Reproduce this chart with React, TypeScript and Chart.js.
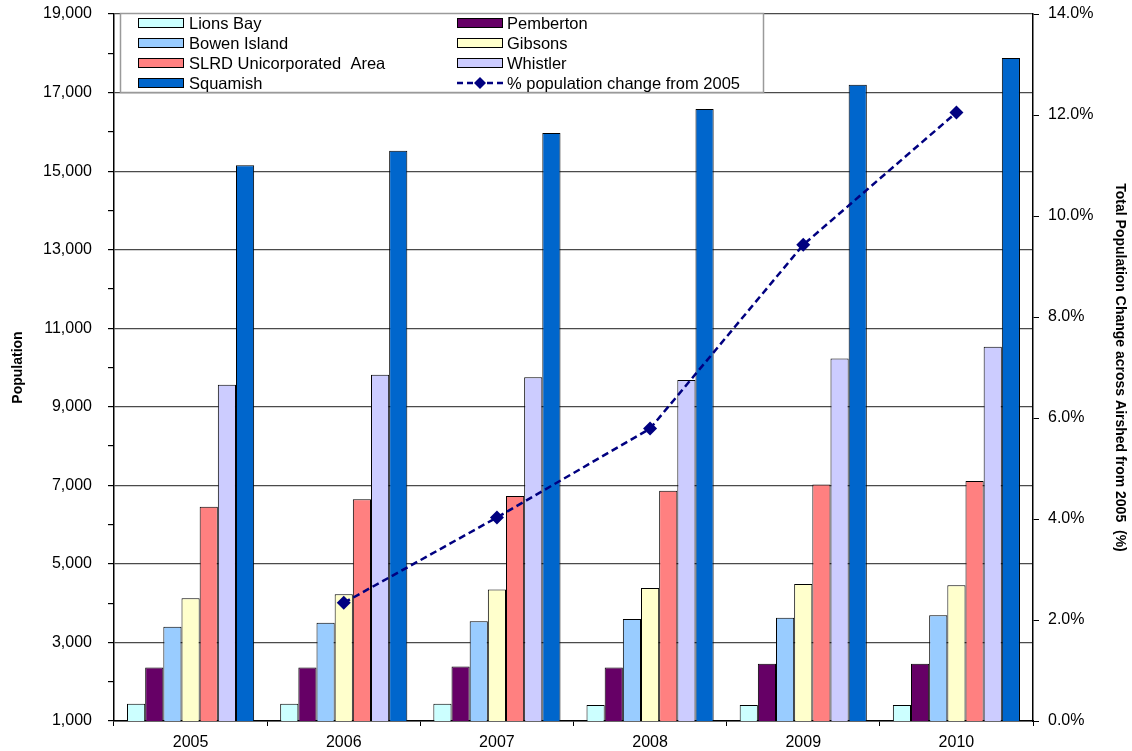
import React, { useEffect, useRef } from 'react';
import { Chart, registerables } from 'chart.js';

Chart.register(...registerables);

const years = ['2005', '2006', '2007', '2008', '2009', '2010'];
const lionsBay = [1440, 1440, 1440, 1410, 1410, 1410];
const pemberton = [2360, 2360, 2390, 2360, 2460, 2460];
const bowenIsland = [3400, 3500, 3540, 3600, 3630, 3690];
const gibsons = [4125, 4225, 4350, 4385, 4490, 4455];
const slrd = [6455, 6645, 6730, 6860, 7020, 7110];
const whistler = [9560, 9815, 9750, 9680, 10230, 10530];
const squamish = [15150, 15520, 15970, 16580, 17200, 17880];
const pctChange = [null, 2.34, 4.03, 5.79, 9.43, 12.05];

const seriesNames = [
  'Lions Bay',
  'Pemberton',
  'Bowen Island',
  'Gibsons',
  'SLRD Unicorporated  Area',
  'Whistler',
  'Squamish',
];
const seriesColors = ['#CCFFFF', '#660066', '#99CCFF', '#FFFFCC', '#FF8080', '#CCCCFF', '#0066CC'];
const seriesValues = [lionsBay, pemberton, bowenIsland, gibsons, slrd, whistler, squamish];
const lineName = '% population change from 2005';
const lineColor = '#000080';

const FONT = "'Liberation Sans', Arial, sans-serif";

const boxLegend = {
  id: 'boxLegend',
  afterDraw(chart: any) {
    const ctx = chart.ctx as CanvasRenderingContext2D;
    ctx.save();
    const x0 = 120, y0 = 13, x1 = 763, y1 = 92;
    ctx.fillStyle = '#ffffff';
    ctx.fillRect(x0, y0, x1 - x0, y1 - y0);
    ctx.strokeStyle = '#9a9a9a';
    ctx.lineWidth = 1.5;
    ctx.strokeRect(x0 + 0.5, y0 + 0.5, x1 - x0, y1 - y0);
    const colSwatch = [138, 457];
    const colText = [189, 507];
    const rowY = [23, 43, 63, 83];
    ctx.font = `16.5px ${FONT}`;
    ctx.textBaseline = 'middle';
    ctx.textAlign = 'left';
    chart.data.datasets.forEach((ds: any, i: number) => {
      const col = i % 2;
      const row = Math.floor(i / 2);
      const sx = colSwatch[col];
      const y = rowY[row];
      if (ds.type === 'line') {
        ctx.strokeStyle = lineColor;
        ctx.lineWidth = 2.5;
        ctx.setLineDash([6, 4]);
        ctx.beginPath();
        ctx.moveTo(sx, y);
        ctx.lineTo(sx + 46, y);
        ctx.stroke();
        ctx.setLineDash([]);
        ctx.fillStyle = lineColor;
        ctx.beginPath();
        ctx.moveTo(sx + 23, y - 6);
        ctx.lineTo(sx + 29, y);
        ctx.lineTo(sx + 23, y + 6);
        ctx.lineTo(sx + 17, y);
        ctx.closePath();
        ctx.fill();
      } else {
        ctx.fillStyle = ds.backgroundColor;
        ctx.fillRect(sx, y - 5, 46, 10);
        ctx.strokeStyle = '#000';
        ctx.lineWidth = 1;
        ctx.strokeRect(sx + 0.5, y - 4.5, 45, 9);
      }
      ctx.fillStyle = '#000';
      ctx.fillText(ds.label, colText[col], y + 1);
    });
    ctx.restore();
  },
};

export default function App() {
  const canvasRef = useRef<HTMLCanvasElement | null>(null);

  useEffect(() => {
    if (!canvasRef.current) return;
    const datasets: any[] = [];
    seriesNames.forEach((name, i) => {
      datasets.push({
        type: 'bar',
        label: name,
        data: seriesValues[i],
        backgroundColor: seriesColors[i],
        borderColor: '#000000',
        borderWidth: 1,
        yAxisID: 'y',
        order: 1,
        categoryPercentage: 0.83,
        barPercentage: 1.0,
      });
    });
    datasets.push({
      type: 'line',
      label: lineName,
      data: pctChange,
      borderColor: lineColor,
      backgroundColor: lineColor,
      borderWidth: 2.5,
      borderDash: [7, 4],
      pointStyle: 'rectRot',
      pointRadius: 7,
      pointBorderWidth: 0,
      pointBackgroundColor: lineColor,
      yAxisID: 'yR',
      order: 0,
      spanGaps: false,
      tension: 0,
    });

    const fixVertical = (w: number) => (s: any) => {
      s.width = w;
      s.paddingTop = 14;
      s.paddingBottom = 0;
    };

    const chart = new Chart(canvasRef.current, {
      type: 'bar',
      data: { labels: years, datasets },
      options: {
        responsive: false,
        animation: false,
        layout: { padding: { top: 0, left: 0, right: 0, bottom: 0 } },
        plugins: {
          legend: { display: false },
          tooltip: { enabled: false },
        },
        scales: {
          x: {
            grid: {
              drawOnChartArea: false,
              offset: true,
              tickLength: 5,
              color: '#000',
              tickColor: '#000',
            },
            border: { color: '#000', width: 1.5 },
            ticks: { color: '#000', font: { family: FONT, size: 16 }, padding: 7 },
            afterFit: (s: any) => { s.height = 30; s.paddingLeft = 0; s.paddingRight = 0; },
          },
          y: {
            position: 'left',
            min: 1000,
            max: 19000,
            border: { color: '#000', width: 1.5 },
            grid: {
              color: (c: any) =>
                c.tick && (c.tick.value - 1000) % 2000 === 0 ? '#4a4a4a' : 'rgba(0,0,0,0)',
              tickColor: '#000',
              tickLength: 6,
              lineWidth: 1.2,
            },
            ticks: {
              stepSize: 1000,
              autoSkip: false,
              color: '#000',
              padding: 16,
              font: { family: FONT, size: 16 },
              callback: (v: any) =>
                (v - 1000) % 2000 === 0 ? Number(v).toLocaleString('en-US') : '',
            },
            title: {
              display: true,
              text: 'Population',
              color: '#000',
              font: { family: FONT, size: 14, weight: 'bold' },
              padding: { top: 10, bottom: 0 },
            },
            afterFit: fixVertical(114),
          },
          yR: {
            position: 'right',
            min: 0,
            max: 14,
            border: { color: '#000', width: 1.5 },
            grid: {
              drawOnChartArea: false,
              tickColor: '#000',
              tickLength: 6,
            },
            ticks: {
              stepSize: 2,
              color: '#000',
              padding: 9,
              font: { family: FONT, size: 16 },
              callback: (v: any) => Number(v).toFixed(1) + '%',
            },
            title: {
              display: true,
              text: 'Total Population Change across Airshed from 2005  (%)',
              color: '#000',
              font: { family: FONT, size: 14, weight: 'bold' },
              padding: { top: 4, bottom: 0 },
            },
            afterFit: fixVertical(99),
          },
        },
      },
      plugins: [boxLegend],
    });
    return () => chart.destroy();
  }, []);

  return (
    <div style={{ position: 'fixed', left: 0, top: 0, width: 1132, height: 751, background: '#fff' }}>
      <canvas ref={canvasRef} width={1132} height={751} style={{ width: 1132, height: 751 }} />
    </div>
  );
}
